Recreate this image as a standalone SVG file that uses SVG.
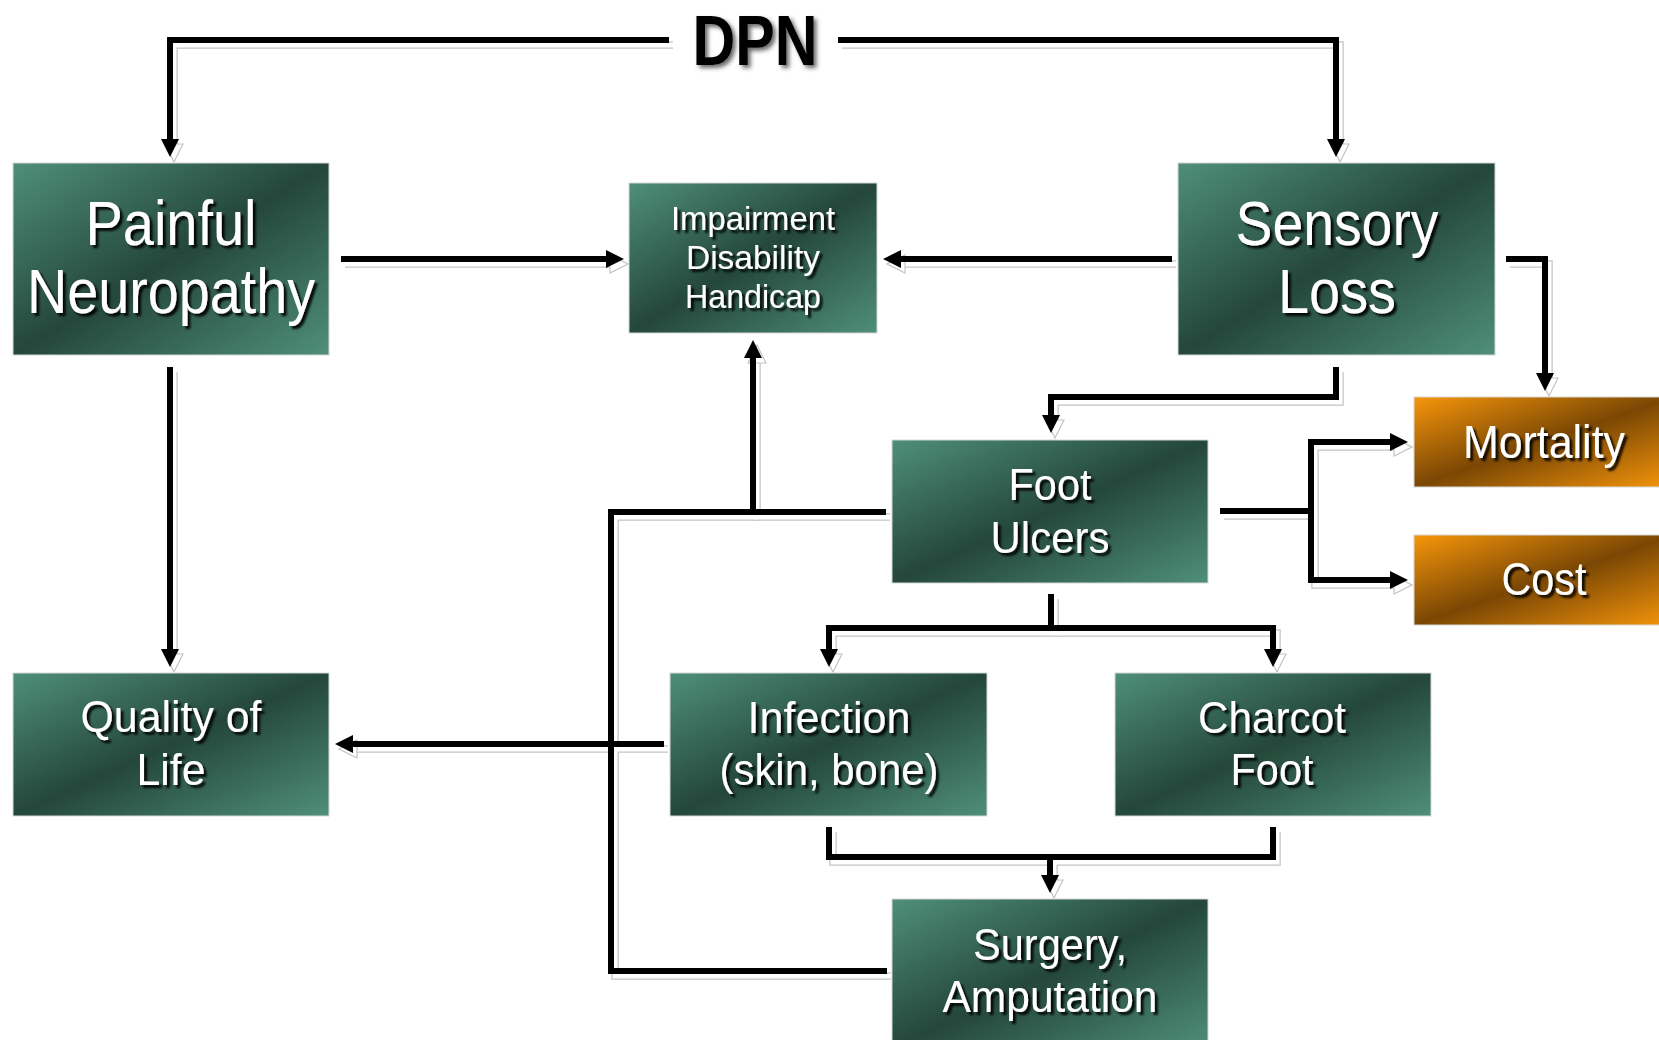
<svg xmlns="http://www.w3.org/2000/svg" width="1659" height="1040" viewBox="0 0 1659 1040">
<style>
.c{fill:none;stroke:#000;stroke-width:6;stroke-linejoin:miter;stroke-linecap:butt}
.sg{fill:none;stroke:#c4c4c4;stroke-width:7.5;stroke-linejoin:miter}
.sw{fill:none;stroke:#fff;stroke-width:5;stroke-linejoin:miter}
.box{stroke:#d4d8d6;stroke-width:1}
.g{fill:url(#gg)}
.o{fill:url(#go)}
.t{font-family:"Liberation Sans Narrow","Liberation Sans",Arial,sans-serif;fill:#fff;text-anchor:middle;filter:url(#ts)}
.big{font-size:63px}
.mid{font-size:44px}
.sml{font-size:34px}
.org{font-size:47px}
.dpn{font-family:"Liberation Sans Narrow","Liberation Sans",Arial,sans-serif;font-weight:bold;font-size:71px;fill:#000;text-anchor:middle;filter:url(#ds)}
</style>
<defs>
<linearGradient id="gg" x1="0" y1="0" x2="1" y2="1">
<stop offset="0" stop-color="#4f8f79"/>
<stop offset="0.5" stop-color="#24473a"/>
<stop offset="1" stop-color="#4f8f79"/>
</linearGradient>
<linearGradient id="go" x1="0" y1="0" x2="1" y2="1">
<stop offset="0" stop-color="#f7960b"/>
<stop offset="0.5" stop-color="#7a4704"/>
<stop offset="1" stop-color="#f7960b"/>
</linearGradient>
<filter id="ts" x="-10%" y="-20%" width="130%" height="150%">
<feDropShadow dx="3" dy="3" stdDeviation="1.2" flood-color="#000" flood-opacity="0.9"/>
</filter>
<filter id="ds" x="-10%" y="-10%" width="130%" height="130%">
<feDropShadow dx="3" dy="3" stdDeviation="2" flood-color="#444" flood-opacity="0.8"/>
</filter>
<marker id="ah" viewBox="0 0 18 18" refX="8" refY="9" markerWidth="18" markerHeight="18" markerUnits="userSpaceOnUse" orient="auto">
<path d="M0,0 L18,9 L0,18 z" fill="#000"/>
</marker>
<marker id="as" viewBox="-1 -1 20 20" refX="8" refY="9" markerWidth="20" markerHeight="20" markerUnits="userSpaceOnUse" orient="auto">
<path d="M0,0 L18,9 L0,18 z" fill="#fff" stroke="#c4c4c4" stroke-width="1.2"/>
</marker>
</defs>
<rect width="1659" height="1040" fill="#fff"/>

<g id="connectors">
<g id="shadows" transform="translate(4,5)">
<g class="sg">
<path d="M669,40 H170 V147"/>
<path d="M838,40 H1336 V147"/>
<path d="M341,259 H614"/>
<path d="M1172,259 H893"/>
<path d="M1506,259 H1545 V381"/>
<path d="M1336,367 V397 H1051 V423"/>
<path d="M170,367 V657"/>
<path d="M886,512 H753 V350"/>
<path d="M887,971 H611 V512 H753"/>
<path d="M664,744 H345"/>
<path d="M1220,511 H1311 V442 H1398"/>
<path d="M1311,511 V580 H1398"/>
<path d="M1051,594 V628 H829 V657"/>
<path d="M1051,628 H1273 V657"/>
<path d="M829,827 V857 H1273 V827"/>
<path d="M1050,857 V883"/>
</g>
<g class="sw">
<path d="M669,40 H170 V147" marker-end="url(#as)"/>
<path d="M838,40 H1336 V147" marker-end="url(#as)"/>
<path d="M341,259 H614" marker-end="url(#as)"/>
<path d="M1172,259 H893" marker-end="url(#as)"/>
<path d="M1506,259 H1545 V381" marker-end="url(#as)"/>
<path d="M1336,367 V397 H1051 V423" marker-end="url(#as)"/>
<path d="M170,367 V657" marker-end="url(#as)"/>
<path d="M886,512 H753 V350" marker-end="url(#as)"/>
<path d="M887,971 H611 V512 H753"/>
<path d="M664,744 H345" marker-end="url(#as)"/>
<path d="M1220,511 H1311 V442 H1398" marker-end="url(#as)"/>
<path d="M1311,511 V580 H1398" marker-end="url(#as)"/>
<path d="M1051,594 V628 H829 V657" marker-end="url(#as)"/>
<path d="M1051,628 H1273 V657" marker-end="url(#as)"/>
<path d="M829,827 V857 H1273 V827"/>
<path d="M1050,857 V883" marker-end="url(#as)"/>
</g>
</g>
<g id="lines" class="c">
<path d="M669,40 H170 V147" marker-end="url(#ah)"/>
<path d="M838,40 H1336 V147" marker-end="url(#ah)"/>
<path d="M341,259 H614" marker-end="url(#ah)"/>
<path d="M1172,259 H893" marker-end="url(#ah)"/>
<path d="M1506,259 H1545 V381" marker-end="url(#ah)"/>
<path d="M1336,367 V397 H1051 V423" marker-end="url(#ah)"/>
<path d="M170,367 V657" marker-end="url(#ah)"/>
<path d="M886,512 H753 V350" marker-end="url(#ah)"/>
<path d="M887,971 H611 V512 H753"/>
<path d="M664,744 H345" marker-end="url(#ah)"/>
<path d="M1220,511 H1311 V442 H1398" marker-end="url(#ah)"/>
<path d="M1311,511 V580 H1398" marker-end="url(#ah)"/>
<path d="M1051,594 V628 H829 V657" marker-end="url(#ah)"/>
<path d="M1051,628 H1273 V657" marker-end="url(#ah)"/>
<path d="M829,827 V857 H1273 V827"/>
<path d="M1050,857 V883" marker-end="url(#ah)"/>
</g>
</g>

<g id="dpn">
<text class="dpn" x="755" y="65" textLength="125" lengthAdjust="spacingAndGlyphs">DPN</text>
</g>

<g id="painful">
<rect class="box g" x="13" y="163" width="316" height="192"/>
<text class="t big" x="171" y="245" textLength="171" lengthAdjust="spacingAndGlyphs">Painful</text>
<text class="t big" x="171" y="313" textLength="288" lengthAdjust="spacingAndGlyphs">Neuropathy</text>
</g>

<g id="impairment">
<rect class="box g" x="629" y="183" width="248" height="150"/>
<text class="t sml" x="753" y="230" textLength="164" lengthAdjust="spacingAndGlyphs">Impairment</text>
<text class="t sml" x="753" y="269" textLength="134" lengthAdjust="spacingAndGlyphs">Disability</text>
<text class="t sml" x="753" y="308" textLength="136" lengthAdjust="spacingAndGlyphs">Handicap</text>
</g>

<g id="sensory">
<rect class="box g" x="1178" y="163" width="317" height="192"/>
<text class="t big" x="1337" y="245" textLength="203" lengthAdjust="spacingAndGlyphs">Sensory</text>
<text class="t big" x="1337" y="313" textLength="118" lengthAdjust="spacingAndGlyphs">Loss</text>
</g>

<g id="mortality">
<rect class="box o" x="1414" y="397" width="260" height="90"/>
<text class="t org" x="1544" y="458" textLength="162" lengthAdjust="spacingAndGlyphs">Mortality</text>
</g>

<g id="cost">
<rect class="box o" x="1414" y="535" width="260" height="90"/>
<text class="t org" x="1544" y="595" textLength="85" lengthAdjust="spacingAndGlyphs">Cost</text>
</g>

<g id="foot-ulcers">
<rect class="box g" x="892" y="440" width="316" height="143"/>
<text class="t mid" x="1050" y="500" textLength="83" lengthAdjust="spacingAndGlyphs">Foot</text>
<text class="t mid" x="1050" y="553" textLength="119" lengthAdjust="spacingAndGlyphs">Ulcers</text>
</g>

<g id="quality">
<rect class="box g" x="13" y="673" width="316" height="143"/>
<text class="t mid" x="171" y="732" textLength="181" lengthAdjust="spacingAndGlyphs">Quality of</text>
<text class="t mid" x="171" y="785" textLength="69" lengthAdjust="spacingAndGlyphs">Life</text>
</g>

<g id="infection">
<rect class="box g" x="670" y="673" width="317" height="143"/>
<text class="t mid" x="829" y="733" textLength="163" lengthAdjust="spacingAndGlyphs">Infection</text>
<text class="t mid" x="829" y="785" textLength="219" lengthAdjust="spacingAndGlyphs">(skin, bone)</text>
</g>

<g id="charcot">
<rect class="box g" x="1115" y="673" width="316" height="143"/>
<text class="t mid" x="1272" y="733" textLength="148" lengthAdjust="spacingAndGlyphs">Charcot</text>
<text class="t mid" x="1272" y="785" textLength="83" lengthAdjust="spacingAndGlyphs">Foot</text>
</g>

<g id="surgery">
<rect class="box g" x="892" y="899" width="316" height="150"/>
<text class="t mid" x="1050" y="960" textLength="154" lengthAdjust="spacingAndGlyphs">Surgery,</text>
<text class="t mid" x="1050" y="1012" textLength="215" lengthAdjust="spacingAndGlyphs">Amputation</text>
</g>
</svg>
